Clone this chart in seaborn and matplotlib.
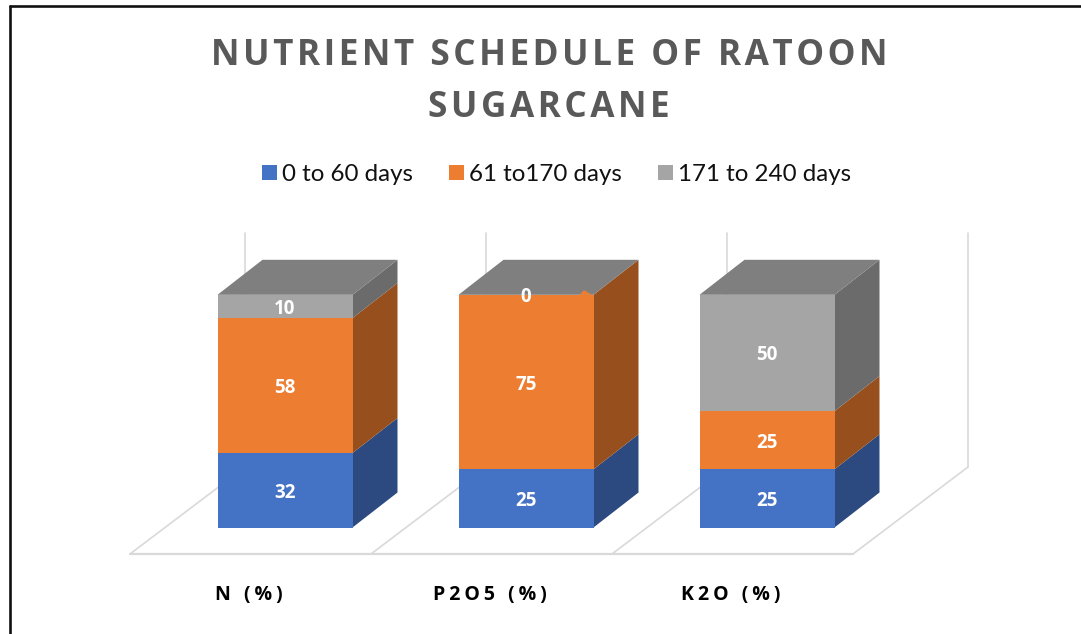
import matplotlib
matplotlib.use('Agg')
import matplotlib.pyplot as plt
from matplotlib.lines import Line2D
import seaborn as sns

# Data
nutrients = ['N (%)', 'P2O5 (%)', 'K2O (%)']
stages = ['0 to 60 days', '61 to170 days', '171 to 240 days']
early = [32, 25, 25]
middle = [58, 75, 25]
late = [10, 0, 50]
title = 'NUTRIENT SCHEDULE OF RATOON\nSUGARCANE'

front_colors = ['#4472C4', '#ED7D31', '#A5A5A5']
side_colors = ['#2C4A80', '#974F1D', '#6B6B6B']
top_color = '#7F7F7F'
grid_color = '#D9D9D9'
fonts = ['Open Sans', 'DejaVu Sans']


def spaced(text, n=1):
    # the source has tracked-out letters, hair spaces are the closest thing
    return '\n'.join(('\u200a' * n).join(line) for line in text.split('\n'))


W, H = 1081, 634
sns.set_theme(style='white')
plt.rcParams['font.family'] = ['Lato', 'DejaVu Sans']

# pixel layout of the fake 3D box
x_unit = 241.0
y_unit = 2.327
center0 = 285.0
base_y = 527.5
bar_w = 135 / x_unit
depth_x = 45 / x_unit
depth_y = 35 / y_unit
floor_x = 115 / x_unit
floor_y = 87 / y_unit
floor_left = -155 / x_unit
floor_front = -26.5 / y_unit
wall_top = (base_y - 233) / y_unit

fig = plt.figure(figsize=(W / 100, H / 100), dpi=100)
left_px, right_px, top_px, bottom_px = 10, 1081, 233, 554
ax = fig.add_axes([left_px / W, 1 - bottom_px / H, (right_px - left_px) / W, (bottom_px - top_px) / H])

# Stacked front faces
bottoms = [0, 0, 0]
for name, values, color, side in zip(stages, [early, middle, late], front_colors, side_colors):
    sns.barplot(x=nutrients, y=values, bottom=bottoms, color=color, saturation=1,
                width=bar_w, label=name, linewidth=0, zorder=3, ax=ax)
    for i, (v, b) in enumerate(zip(values, bottoms)):
        xr = i + bar_w / 2
        ax.fill([xr, xr + depth_x, xr + depth_x, xr],
                [b, b + depth_y, b + v + depth_y, b + v], color=side, lw=0, zorder=2.5)
        ax.text(i, b + v / 2, str(v), color='white', fontsize=13.5, fontweight='bold',
                family=fonts, ha='center', va='center_baseline', zorder=5)
    bottoms = [b + v for b, v in zip(bottoms, values)]

# Top faces
for i, total in enumerate(bottoms):
    xl, xr = i - bar_w / 2, i + bar_w / 2
    ax.fill([xl, xr, xr + depth_x, xl + depth_x],
            [total, total, total + depth_y, total + depth_y], color=top_color, lw=0, zorder=2.6)

# little orange sliver from the empty segment on the middle bar
xr = 1 + bar_w / 2
ax.fill([xr - 0.058, xr - 0.04, xr - 0.005], [100, 102, 100], color=front_colors[1], lw=0, zorder=2.7)

# Floor and walls
for k in range(4):
    x0 = floor_left + k
    ax.plot([x0, x0 + floor_x], [floor_front, floor_front + floor_y],
            color=grid_color, lw=1.2, zorder=1, clip_on=False)
    ax.plot([x0 + floor_x, x0 + floor_x], [floor_front + floor_y, wall_top],
            color=grid_color, lw=1.2, zorder=1, clip_on=False)
ax.plot([floor_left, floor_left + 3], [floor_front, floor_front], color=grid_color, lw=1.6,
        zorder=1, clip_on=False)

ax.set_xlim((left_px - center0) / x_unit, (right_px - center0) / x_unit)
ax.set_ylim(floor_front, wall_top)
sns.despine(ax=ax, left=True, bottom=True)
ax.set_yticks([])
ax.set_ylabel('')
ax.set_xticks([i - 36 / x_unit for i in range(3)])
ax.set_xticklabels([spaced(n, 2) for n in nutrients], fontsize=14, fontweight='bold', color='black', family=fonts)
ax.tick_params(axis='x', length=0, pad=22)

# Legend
handles, labels = ax.get_legend_handles_labels()
ax.legend(handles, labels, ncol=3, frameon=False, fontsize=17.4, loc='center', labelcolor='#111111',
          bbox_to_anchor=(556.5 / W, 1 - 174.5 / H), bbox_transform=fig.transFigure,
          handlelength=0.62, handleheight=0.62, handletextpad=0.21, columnspacing=1.5)

fig.text(549 / W, 1 - 38 / H, spaced(title), ha='center', va='top', fontsize=25.3, fontweight='bold',
         color='#595959', family=fonts, linespacing=1.6)

# Black frame of the source picture
fig.add_artist(Line2D([9.5 / W, 9.5 / W], [0, 1 - 6 / H], color='#111111', lw=1.9))
fig.add_artist(Line2D([9.5 / W, 1], [1 - 6 / H, 1 - 6 / H], color='#111111', lw=1.9))

fig.savefig('out.png', dpi=100)
